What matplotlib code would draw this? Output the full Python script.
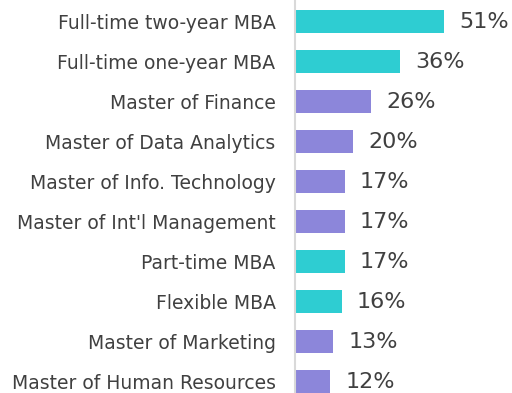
import matplotlib
matplotlib.use("Agg")
import matplotlib.pyplot as plt

programs = [
    "Full-time two-year MBA",
    "Full-time one-year MBA",
    "Master of Finance",
    "Master of Data Analytics",
    "Master of Info. Technology",
    "Master of Int'l Management",
    "Part-time MBA",
    "Flexible MBA",
    "Master of Marketing",
    "Master of Human Resources",
]
shares = [51, 36, 26, 20, 17, 17, 17, 16, 13, 12]
is_mba = [True, True, False, False, False, False, True, True, False, False]

TEAL = "#2ECDD2"
PURPLE = "#8C86DA"
TEXT = "#404040"

fig = plt.figure(figsize=(5.12, 3.93), dpi=100)
ax = fig.add_axes([295 / 512, 0, 217 / 512, 1])

colors = [TEAL if m else PURPLE for m in is_mba]
y = list(range(len(programs)))
ax.barh(y, shares, height=0.575, color=colors, left=0)

for yi, v in zip(y, shares):
    ax.annotate(f"{v}%", (v, yi), xytext=(11, 0), textcoords="offset points",
                ha="left", va="center", fontsize=16, color=TEXT)

ax.set_xlim(0, 217 / 2.92)
ax.set_ylim(9.2875, -0.5375)
ax.set_yticks(y)
ax.set_yticklabels(programs, fontsize=13.5, color=TEXT)
ax.tick_params(axis="y", length=0, pad=14)
ax.set_xticks([])

for side in ["top", "right", "bottom"]:
    ax.spines[side].set_visible(False)
ax.spines["left"].set_color("#D9D9D9")
ax.spines["left"].set_linewidth(1.5)

fig.savefig("out.png", dpi=100)
